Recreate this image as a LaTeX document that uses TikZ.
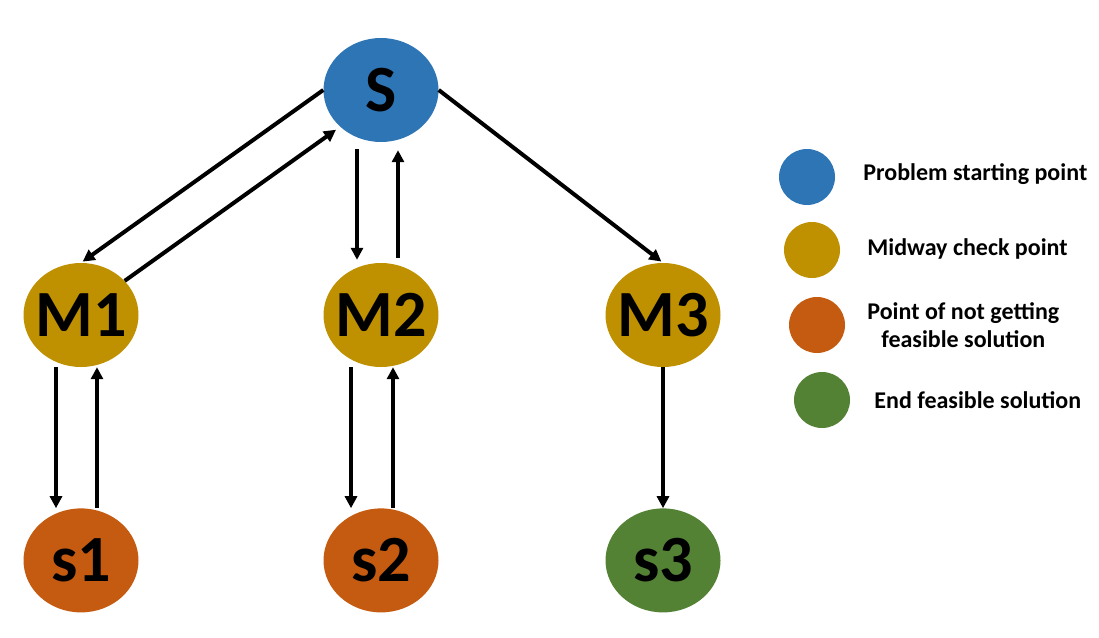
\documentclass[tikz,border=0pt]{standalone}
\usepackage{fontspec}
\setmainfont{Carlito}
\usetikzlibrary{shapes.geometric, arrows.meta, positioning}

\definecolor{startblue}{HTML}{2E75B6}
\definecolor{midgold}{HTML}{BF9000}
\definecolor{failorange}{HTML}{C55A11}
\definecolor{endgreen}{HTML}{548235}

\begin{document}
\begin{tikzpicture}[x=1pt, y=-1pt,
        point/.style={ellipse, minimum width=115pt, minimum height=104pt, inner xsep=-6pt, inner ysep=0pt, font=\fontsize{66}{66}\selectfont\bfseries},
        legdot/.style={circle, minimum size=56pt, inner sep=0pt},
        legtext/.style={inner sep=0pt, align=center, font=\fontsize{24}{28}\selectfont\bfseries},
        arrow/.style={line width=4pt, -{Triangle[length=12pt, width=12pt]}}
    ]
        \useasboundingbox (0,0) rectangle (1099,637);

        \node[point, fill=startblue] (S) at (381,90) {S};
        \node[point, fill=midgold] (M1) at (81,315) {M1};
        \node[point, fill=midgold] (M2) at (381,315) {M2};
        \node[point, fill=midgold] (M3) at (663,315) {M3};
        \node[point, fill=failorange, below=141pt of M1] (s1) {s1};
        \node[point, fill=failorange, below=141pt of M2] (s2) {s2};
        \node[point, fill=endgreen, below=141pt of M3] (s3) {s3};

        
        \draw[arrow, shorten >=2pt] (S.west) -- (M1.north);
        \draw[arrow, shorten >=5pt] (M1.38) -- (S.222);
        \draw[arrow, shorten <=7pt, shorten >=3pt] ([xshift=-24pt]S.south) -- ([xshift=-24pt]M2.north);
        \draw[arrow, shorten <=5pt, shorten >=8pt] ([xshift=17pt]M2.north) -- ([xshift=17pt]S.south);
        \draw[arrow, shorten >=2pt] (S.east) -- (M3.north);

        \draw[arrow] ([xshift=-25pt]M1.south) -- ([xshift=-25pt]s1.north);
        \draw[arrow] ([xshift=16pt]s1.north) -- ([xshift=16pt]M1.south);
        \draw[arrow] ([xshift=-30pt]M2.south) -- ([xshift=-30pt]s2.north);
        \draw[arrow] ([xshift=12pt]s2.north) -- ([xshift=12pt]M2.south);
        \draw[arrow] (M3.south) -- (s3.north);

        
        \node[legdot, fill=startblue] (legS) at (807,177) {};
        \node[legdot, fill=midgold] (legM) at (812,250) {};
        \node[legdot, fill=failorange] (legF) at (817,325) {};
        \node[legdot, fill=endgreen] (legE) at (822,400) {};

        \node[legtext, right=28pt of legS, yshift=3pt] (txtS) {Problem starting point};
        \node[legtext, right=27pt of legM, yshift=1pt] (txtM) {Midway check point};
        \node[legtext, right=22pt of legF] (txtF) {Point of not getting\\feasible solution};
        \node[legtext, right=24pt of legE] (txtE) {End feasible solution};
    \end{tikzpicture}
\end{document}
